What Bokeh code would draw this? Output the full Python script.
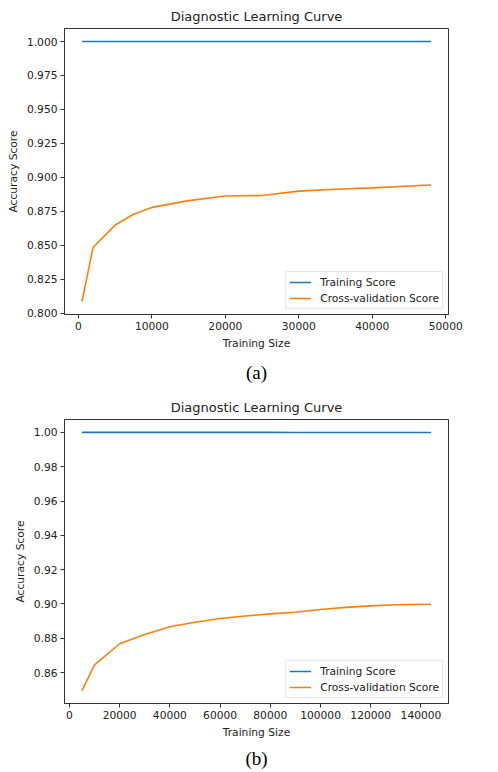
from bokeh.plotting import figure
from bokeh.layouts import column
from bokeh.models import Range1d, FixedTicker, Title, Legend, LegendItem
from bokeh.embed import file_html
from bokeh.resources import INLINE

# ---- Chart (a) data ----
a_sizes = [480, 2000, 5000, 7500, 10000, 15000, 20000, 25000, 30000, 35000, 40000, 48000]
a_train = [1.0, 1.0, 1.0, 1.0, 1.0, 1.0, 1.0, 1.0, 1.0, 1.0, 1.0, 1.0]
a_cv = [0.8085, 0.8485, 0.8648, 0.8728, 0.8778, 0.8828, 0.8862, 0.8866, 0.8898, 0.8912, 0.8922, 0.8943]
a_xticks = [0, 10000, 20000, 30000, 40000, 50000]
a_xlabels = ["0", "10000", "20000", "30000", "40000", "50000"]
a_yticks = [0.800, 0.825, 0.850, 0.875, 0.900, 0.925, 0.950, 0.975, 1.000]
a_ylabels = ["0.800", "0.825", "0.850", "0.875", "0.900", "0.925", "0.950", "0.975", "1.000"]

# ---- Chart (b) data ----
b_sizes = [5000, 10000, 20000, 30000, 40000, 50000, 60000, 70000, 80000, 90000,
           100000, 110000, 120000, 130000, 144000]
b_train = [1.0, 1.0, 1.0, 1.0, 1.0, 1.0, 1.0, 1.0, 1.0, 0.99998,
           0.99997, 0.99996, 0.99995, 0.99994, 0.99993]
b_cv = [0.8495, 0.8645, 0.8768, 0.8822, 0.8867, 0.8893, 0.8915, 0.8930, 0.8942, 0.8952,
        0.8968, 0.8980, 0.8989, 0.8995, 0.8998]
b_xticks = [0, 20000, 40000, 60000, 80000, 100000, 120000, 140000]
b_xlabels = ["0", "20000", "40000", "60000", "80000", "100000", "120000", "140000"]
b_yticks = [0.86, 0.88, 0.90, 0.92, 0.94, 0.96, 0.98, 1.00]
b_ylabels = ["0.86", "0.88", "0.90", "0.92", "0.94", "0.96", "0.98", "1.00"]

BLUE = "#1f77b4"
ORANGE = "#ff7f0e"
SANS = "DejaVu Sans"
SERIF = "Liberation Serif"


def padded(lo, hi, frac=0.05):
    span = hi - lo
    return lo - span * frac, hi + span * frac


def make_chart(sizes, train, cv, xticks, xlabels, yticks, ylabels, caption,
               height, left, right, top, bottom, cap_standoff):
    x0, x1 = padded(min(sizes), max(sizes))
    y0, y1 = padded(min(train + cv), max(train + cv))
    p = figure(width=498, height=height, x_range=Range1d(x0, x1), y_range=Range1d(y0, y1),
               output_backend="svg", toolbar_location=None,
               min_border_left=left, min_border_right=right,
               min_border_top=top, min_border_bottom=bottom)
    p.title.text = "Diagnostic Learning Curve"
    p.title.align = "center"
    p.title.text_font = SANS
    p.title.text_font_size = "13px"
    p.title.text_font_style = "normal"
    p.title.text_color = "#222222"

    p.background_fill_color = "white"
    p.border_fill_color = "white"
    p.outline_line_color = "#333333"
    p.outline_line_width = 1
    p.xgrid.visible = False
    p.ygrid.visible = False

    for ax, ticks, labels in ((p.xaxis[0], xticks, xlabels), (p.yaxis[0], yticks, ylabels)):
        ax.ticker = FixedTicker(ticks=ticks)
        ax.major_label_overrides = {t: l for t, l in zip(ticks, labels)}
        ax.minor_tick_line_color = None
        ax.major_tick_in = 0
        ax.major_tick_out = 4
        ax.major_tick_line_color = "#333333"
        ax.axis_line_color = "#333333"
        ax.major_label_text_font = SANS
        ax.major_label_text_font_size = "10.7px"
        ax.major_label_text_color = "#222222"
        ax.major_label_standoff = 3
        ax.axis_label_text_font = SANS
        ax.axis_label_text_font_size = "10.7px"
        ax.axis_label_text_font_style = "normal"
        ax.axis_label_text_color = "#222222"
        ax.axis_label_standoff = 4
    p.xaxis.axis_label = "Training Size"
    p.yaxis.axis_label = "Accuracy Score"

    r_train = p.line(sizes, train, line_color=BLUE, line_width=1.6)
    r_cv = p.line(sizes, cv, line_color=ORANGE, line_width=1.6)

    legend = Legend(items=[LegendItem(label="Training Score", renderers=[r_train]),
                           LegendItem(label="Cross-validation Score", renderers=[r_cv])],
                    location="bottom_right")
    legend.label_text_font = SANS
    legend.label_text_font_size = "10.7px"
    legend.label_text_color = "#222222"
    legend.glyph_width = 22
    legend.glyph_height = 14
    legend.label_height = 14
    legend.label_standoff = 9
    legend.spacing = 2
    legend.padding = 3
    legend.margin = 5
    legend.border_line_color = "#cccccc"
    legend.border_line_width = 1
    legend.background_fill_alpha = 0.9
    p.add_layout(legend, "center")

    cap = Title(text=caption, align="center", text_font=SERIF, text_font_size="19px",
                text_font_style="normal", text_color="black", standoff=cap_standoff)
    p.add_layout(cap, "below")
    return p


pa = make_chart(a_sizes, a_train, a_cv, a_xticks, a_xlabels, a_yticks, a_ylabels, "(a)",
                height=390, left=62, right=50, top=28, bottom=76, cap_standoff=14)
pb = make_chart(b_sizes, b_train, b_cv, b_xticks, b_xlabels, b_yticks, b_ylabels, "(b)",
                height=382, left=64, right=47, top=29, bottom=66, cap_standoff=8)

layout = column(pa, pb, spacing=0)
open("out.html", "w").write(file_html(layout, INLINE))
